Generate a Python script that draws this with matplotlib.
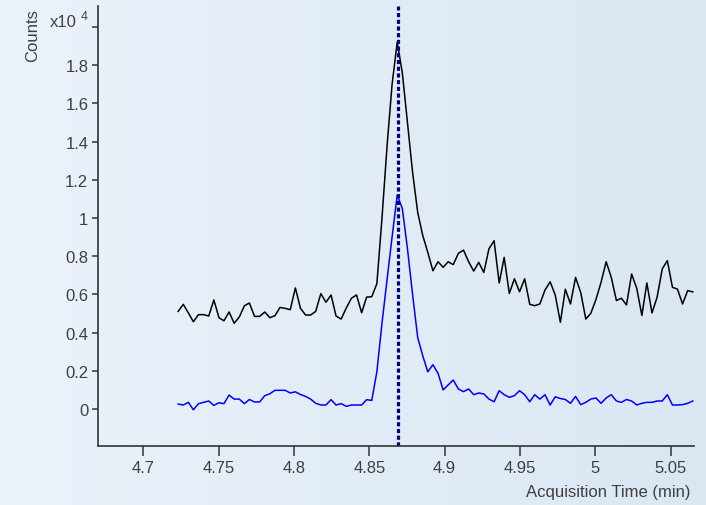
'''
Extracted ion chromatogram: quantifier (black) and qualifier (blue) traces
'''
import matplotlib
matplotlib.use('Agg')
import matplotlib.pyplot as plt
import numpy as np

plt.rcParams['font.family'] = ['Liberation Sans', 'DejaVu Sans']

# acquisition times (min)
times = [
    4.7231, 4.7265, 4.7299, 4.7332, 4.7366, 4.7400, 4.7434, 4.7468, 4.7502, 4.7535,
    4.7569, 4.7603, 4.7637, 4.7671, 4.7704, 4.7738, 4.7772, 4.7806, 4.7840, 4.7874,
    4.7907, 4.7941, 4.7975, 4.8009, 4.8043, 4.8077, 4.8110, 4.8144, 4.8178, 4.8212,
    4.8246, 4.8279, 4.8313, 4.8347, 4.8381, 4.8415, 4.8449, 4.8482, 4.8516, 4.8550,
    4.8584, 4.8618, 4.8651, 4.8685, 4.8719, 4.8753, 4.8787, 4.8821, 4.8854, 4.8888,
    4.8922, 4.8956, 4.8990, 4.9023, 4.9057, 4.9091, 4.9125, 4.9159, 4.9193, 4.9226,
    4.9260, 4.9294, 4.9328, 4.9362, 4.9395, 4.9429, 4.9463, 4.9497, 4.9531, 4.9565,
    4.9598, 4.9632, 4.9666, 4.9700, 4.9734, 4.9768, 4.9801, 4.9835, 4.9869, 4.9903,
    4.9937, 4.9970, 5.0004, 5.0038, 5.0072, 5.0106, 5.0140, 5.0173, 5.0207, 5.0241,
    5.0275, 5.0309, 5.0342, 5.0376, 5.0410, 5.0444, 5.0478, 5.0512, 5.0545, 5.0579,
    5.0613, 5.0647]

# counts (x10^4), black trace
counts_black = [
    0.511, 0.548, 0.503, 0.457, 0.494, 0.494, 0.487, 0.571, 0.478, 0.462,
    0.508, 0.449, 0.482, 0.541, 0.555, 0.485, 0.485, 0.508, 0.478, 0.489,
    0.532, 0.527, 0.520, 0.634, 0.527, 0.492, 0.492, 0.511, 0.604, 0.559,
    0.597, 0.487, 0.471, 0.529, 0.580, 0.597, 0.504, 0.586, 0.588, 0.656,
    1.000, 1.380, 1.700, 1.920, 1.760, 1.500, 1.240, 1.030, 0.910, 0.820,
    0.724, 0.771, 0.742, 0.771, 0.756, 0.815, 0.832, 0.771, 0.722, 0.768,
    0.715, 0.839, 0.881, 0.660, 0.794, 0.605, 0.682, 0.614, 0.682, 0.548,
    0.541, 0.550, 0.623, 0.666, 0.597, 0.454, 0.627, 0.550, 0.689, 0.610,
    0.471, 0.501, 0.573, 0.663, 0.771, 0.689, 0.568, 0.580, 0.545, 0.707,
    0.632, 0.490, 0.660, 0.503, 0.585, 0.733, 0.777, 0.637, 0.628, 0.550,
    0.620, 0.613]

# counts (x10^4), blue trace
counts_blue = [
    0.026, 0.021, 0.035, -0.004, 0.028, 0.035, 0.042, 0.019, 0.033, 0.028,
    0.073, 0.052, 0.052, 0.028, 0.050, 0.037, 0.037, 0.070, 0.080, 0.098,
    0.098, 0.098, 0.084, 0.090, 0.076, 0.066, 0.052, 0.030, 0.021, 0.021,
    0.049, 0.021, 0.028, 0.014, 0.021, 0.021, 0.021, 0.049, 0.045, 0.195,
    0.450, 0.680, 0.900, 1.120, 1.050, 0.840, 0.600, 0.375, 0.280, 0.195,
    0.232, 0.187, 0.100, 0.126, 0.152, 0.105, 0.091, 0.105, 0.075, 0.084,
    0.079, 0.052, 0.038, 0.096, 0.075, 0.061, 0.070, 0.096, 0.075, 0.038,
    0.075, 0.052, 0.075, 0.021, 0.064, 0.055, 0.050, 0.030, 0.066, 0.023,
    0.035, 0.052, 0.058, 0.030, 0.058, 0.075, 0.042, 0.035, 0.050, 0.042,
    0.021, 0.030, 0.035, 0.035, 0.042, 0.042, 0.075, 0.021, 0.021, 0.023,
    0.030, 0.042]

retention_time = 4.869
x_ticks = [4.7, 4.75, 4.8, 4.85, 4.9, 4.95, 5.0, 5.05]
y_ticks = [0, 0.2, 0.4, 0.6, 0.8, 1.0, 1.2, 1.4, 1.6, 1.8, 2.0]

W, H = 706, 506
fig = plt.figure(figsize=(W / 100, H / 100), dpi=100)

# light blue gradient background
bg = fig.add_axes([0, 0, 1, 1], zorder=-1)
grad = np.linspace(0, 1, 256)
c_left = np.array([235, 242, 250]) / 255
c_right = np.array([218, 231, 243]) / 255
img = c_left[None, :] * (1 - grad[:, None]) + c_right[None, :] * grad[:, None]
bg.imshow(img[None, :, :], aspect='auto', extent=[0, 1, 0, 1])
bg.axis('off')

ax = fig.add_axes([98 / W, (H - 447) / H, (694 - 98) / W, (447 - 7) / H])
ax.patch.set_alpha(0)

ax.plot(times, counts_black, color='black', lw=1.1)
ax.plot(times, counts_blue, color='#0000ff', lw=1.1)
ax.axvline(retention_time, color='#000080', lw=2.3, linestyle=(0, (1.3, 0.8)))

ax.set_xlim(4.6699, 5.0655)
ax.set_ylim(-0.1936, 2.110)

ax.set_xticks(x_ticks)
ax.set_xticklabels(['%g' % t for t in x_ticks])
ax.set_yticks(y_ticks)
ax.set_yticklabels(['%g' % t for t in y_ticks[:-1]] + [''])

for side in ['top', 'right']:
    ax.spines[side].set_visible(False)
for side in ['left', 'bottom']:
    ax.spines[side].set_color('#333333')
    ax.spines[side].set_linewidth(1.2)

ax.tick_params(axis='x', direction='out', length=7, width=1.1, color='#333333',
               labelsize=12, labelcolor='#404040', pad=3)
ax.tick_params(axis='y', direction='out', length=4, width=1.1, color='#333333',
               labelsize=12, labelcolor='#404040', pad=3)

# axis titles and exponent
fig.text(33 / W, 1 - 36 / H, 'Counts', rotation=90, ha='center', va='center',
         fontsize=12, color='#404040')
fig.text(77 / W, 1 - 27 / H, 'x10', ha='right', va='baseline', fontsize=12, color='#404040')
fig.text(81 / W, 1 - 20 / H, '4', ha='left', va='baseline', fontsize=9, color='#404040')
fig.text(690 / W, 1 - 493 / H, 'Acquisition Time (min)', ha='right', va='center',
         fontsize=12, color='#404040')

plt.savefig('out.png', dpi=100)
